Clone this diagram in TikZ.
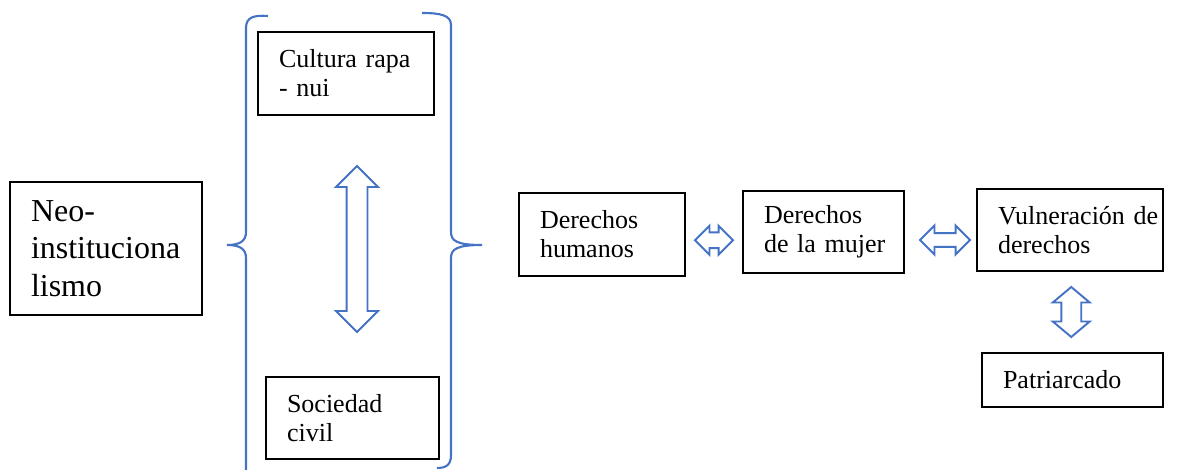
\documentclass[tikz,border=0pt]{standalone}
\usepackage{fontspec}
\setmainfont{Liberation Serif}
\usetikzlibrary{shapes.arrows, calc, positioning}
\definecolor{braceblue}{RGB}{68,114,196}

\begin{document}
\begin{tikzpicture}[x=0.02cm, y=-0.02cm,
  box/.style={draw=black, line width=1.1pt, rectangle, inner sep=0pt, align=left,
    font=\fontsize{14.8}{16.5}\selectfont},
  fatarrow/.style={double arrow, draw=braceblue, fill=white, line width=1.1pt,
    inner xsep=0pt, double arrow tip angle=90},
  bracket/.style={draw=braceblue, line width=1.2pt}]
\useasboundingbox (0,0) rectangle (1178,470);

% Left box
\node[box, minimum width=3.84cm, minimum height=2.66cm, text width=3.0cm,
  font=\fontsize{18.2}{21.3}\selectfont] (neo) at (106,248.5) {Neo-\\\mbox{instituciona}\\lismo};

% Braces
\draw[bracket] (268,16) .. controls (254,15) and (246,17) .. (246,28) -- (246,232)
  .. controls (246,241) and (240,245) .. (227,245)
  .. controls (240,245) and (246,249) .. (246,258) -- (246,480);
\draw[bracket] (422,13) .. controls (440,13) and (451,15) .. (451,25) -- (451,232)
  .. controls (451,241) and (457,245) .. (482,245)
  .. controls (457,245) and (451,249) .. (451,258) -- (451,455)
  .. controls (451,465) and (446,468) .. (437,468);

% Inside the braces
\node[box, minimum width=3.52cm, minimum height=1.66cm, text width=2.68cm] (cultura) at (346,73.5) {\mbox{Cultura rapa}\\- nui};
\node[box, minimum width=3.46cm, minimum height=1.64cm, text width=2.62cm] (sociedad) at (352.5,418) {Sociedad\\civil};
\node[fatarrow, rotate=90, minimum height=3.32cm, inner ysep=0.19cm,
  double arrow head extend=0.21cm] (rel1) at (357,249) {};

% Right chain
\node[box, minimum width=3.32cm, minimum height=1.66cm, text width=2.48cm] (dh) at (602,234.5) {Derechos\\humanos};
\node[box, minimum width=3.22cm, minimum height=1.64cm, text width=2.38cm] (dm) at (823.5,232) {Derechos\\\mbox{de la mujer}};
\node[box, minimum width=3.72cm, minimum height=1.64cm, text width=2.88cm] (vul) at (1070,230) {\mbox{Vulneración de}\\derechos};
\node[box, minimum width=3.62cm, minimum height=1.08cm, text width=2.78cm] (pat) at (1072.5,380) {Patriarcado};

% Arrows between boxes
\node[fatarrow, minimum height=0.76cm, inner ysep=0.14cm, double arrow head extend=0.13cm,
  yshift=-0.14cm] (rel2) at ($(dh.east)!0.5!(dm.west)$) {};
\node[fatarrow, minimum height=1.0cm, inner ysep=0.12cm, double arrow head extend=0.15cm,
  xshift=0.09cm, yshift=-0.18cm] (rel3) at ($(dm.east)!0.5!(vul.west)$) {};
\node[fatarrow, rotate=90, minimum height=1.0cm, inner ysep=0.18cm, double arrow head extend=0.17cm,
  double arrow tip angle=100] (rel4) at ($(vul.south)!0.5!(pat.north)$) {};
\end{tikzpicture}
\end{document}
